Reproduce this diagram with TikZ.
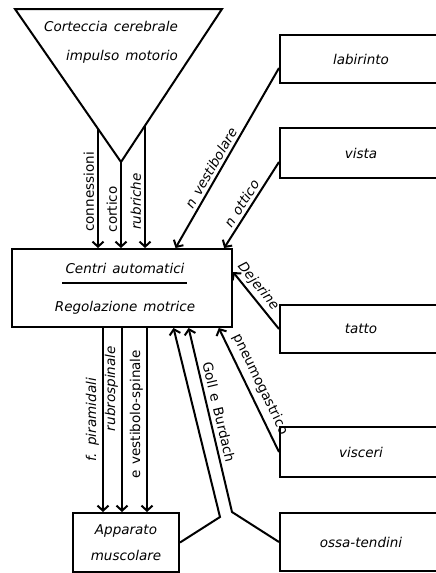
\documentclass[tikz,border=0pt]{standalone}
\usepackage{fontspec}
\setmainfont{DejaVu Sans}[WordSpace=1.4]
\usetikzlibrary{arrows.meta,calc}

\tikzset{
  >={Straight Barb[length=5pt,width=11pt]},
  nerve/.style={line width=2pt},
  box/.style={draw,line width=2pt,font=\itshape,inner sep=0pt},
  lbl/.style={inner sep=3pt,font=\itshape},
  lblup/.style={inner sep=3pt,font=\upshape},
}

\begin{document}
\fontsize{13.5}{17}\selectfont
\begin{tikzpicture}[x=1pt,y=-1pt]
\useasboundingbox (0,0) rectangle (436,573);
\clip (0,0) rectangle (436,573);
%cortex
\coordinate (tl) at (15,9);
\coordinate (tr) at (222,9);
\coordinate (apex) at (121,162);
\draw[nerve] (tl) -- (tr) -- (apex) -- cycle;
\node[font=\itshape] (corteccia) at (111,26) {Corteccia cerebrale};
\node[font=\itshape] (impulso) at (122,57) {impulso motorio};
\coordinate (cl) at ($(tl)!0.783!(apex)$);
\coordinate (cr) at ($(tr)!0.762!(apex)$);
%boxes
\node[box,minimum width=220pt,minimum height=78pt] (centri) at (122,288) {};
\node[font=\itshape] (automatici) at (125,268) {Centri automatici};
\draw[nerve] (62,283) -- (187,283);
\node[font=\itshape] (regolazione) at (125,308) {Regolazione motrice};
\node[box,minimum width=106pt,minimum height=59pt,align=center] (apparato) at (126,542.5) {Apparato\\[9pt]muscolare};
\node[box,minimum width=162pt,minimum height=48pt] (labirinto) at (361,59) {labirinto};
\node[box,minimum width=162pt,minimum height=50pt] (vista) at (361,153) {vista};
\node[box,minimum width=162pt,minimum height=48pt] (tatto) at (361,329) {tatto};
\node[box,minimum width=162pt,minimum height=50pt] (visceri) at (361,452) {visceri};
\node[box,minimum width=162pt,minimum height=58pt] (ossa) at (361,542) {ossa-tendini};
%cortex to centri
\draw[nerve,->] (cl) -- (cl |- centri.north) node[lblup,pos=0.53,rotate=90,anchor=south] {connessioni};
\draw[nerve,->] (apex) -- (apex |- centri.north) node[lblup,pos=0.55,rotate=90,anchor=south] {cortico};
\draw[nerve,->] (cr) -- (cr |- centri.north) node[lbl,pos=0.62,rotate=90,anchor=south] {rubriche};
%centri to muscles
\coordinate (pyr) at ($(centri.south)+(-19,0)$);
\coordinate (rubro) at (centri.south);
\coordinate (vest) at ($(centri.south)+(25,0)$);
\draw[nerve,->] (pyr) -- (pyr |- apparato.north) node[lbl,pos=0.5,rotate=90,anchor=south] {f. piramidali};
\draw[nerve,->] (rubro) -- (rubro |- apparato.north) node[lbl,pos=0.33,rotate=90,anchor=south] {rubrospinale};
\draw[nerve,->] (vest) -- (vest |- apparato.north) node[lblup,pos=0.47,rotate=90,anchor=south] {e vestibolo-spinale};
%senses to centri
\coordinate (labout) at ($(labirinto.west)+(0,9)$);
\coordinate (vistout) at ($(vista.west)+(0,9)$);
\coordinate (vestin) at ($(centri.north west)!0.741!(centri.north east)$);
\coordinate (otticin) at ($(centri.north west)!0.96!(centri.north east)$);
\draw[nerve,<-] (vestin) -- (labout) node[lbl,pos=0.42,sloped,above] {n vestibolare};
\draw[nerve,<-] (otticin) -- (vistout) node[lbl,pos=0.46,sloped,above] {n ottico};
\coordinate (dejin) at ($(centri.east)+(0,-16)$);
\draw[nerve,<-] (dejin) -- (tatto.west) node[lbl,pos=0.37,sloped,above] {Dejerine};
\coordinate (pneuin) at ($(centri.south west)!0.936!(centri.south east)$);
\draw[nerve,<-] (pneuin) -- (visceri.west) node[lblup,pos=0.5,sloped,above,inner sep=5pt] {pneumogastrico};
\coordinate (gollin) at ($(centri.south west)!0.8!(centri.south east)$);
\coordinate (gollbend) at (232,512);
\draw[nerve,<-] (gollin) -- (gollbend) node[lblup,pos=0.47,sloped,above,inner sep=4pt] {Goll e Burdach} -- (ossa.west);
\coordinate (muscin) at ($(centri.south west)!0.732!(centri.south east)$);
\coordinate (muscbend) at (220,517);
\draw[nerve,->] (apparato.east) -- (muscbend) -- (muscin);
\end{tikzpicture}
\end{document}
